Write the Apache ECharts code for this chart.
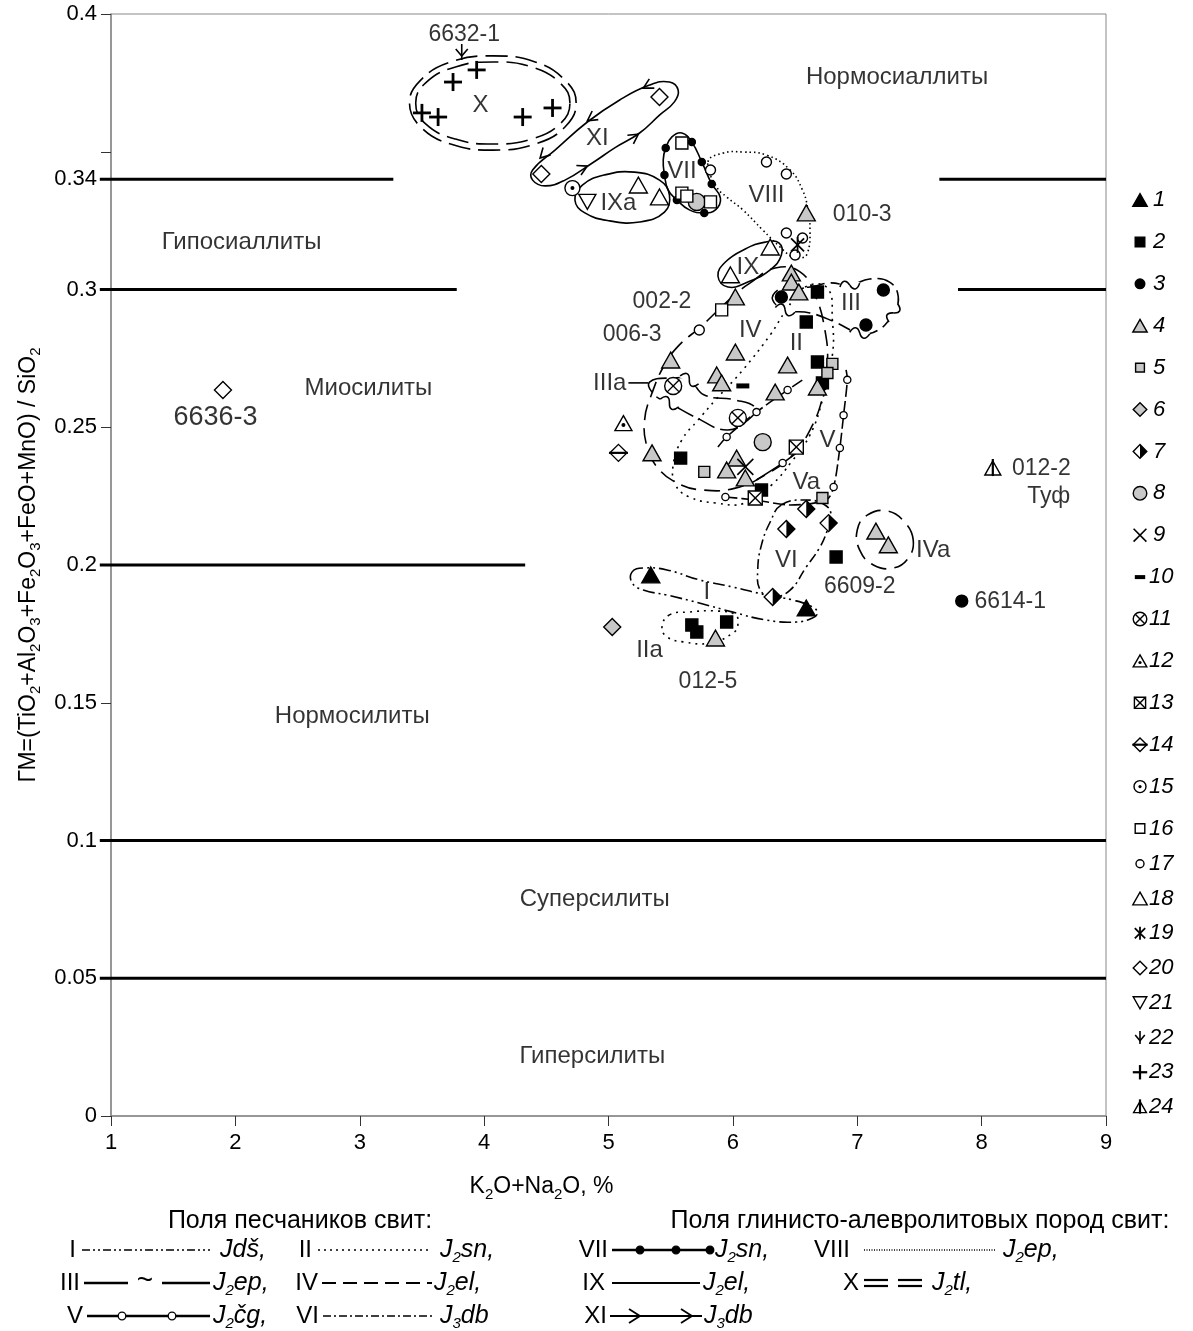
<!DOCTYPE html>
<html>
<head>
<meta charset="utf-8">
<script src="https://cdn.jsdelivr.net/npm/echarts@6/dist/echarts.min.js"></script>
<style>
  html, body { margin: 0; padding: 0; background: #fff; }
  #chart { width: 1193px; height: 1331px; }
</style>
</head>
<body>
<div id="chart"></div>
<script>
  // тики оси Y
  const yLabelValues = [0, 0.05, 0.1, 0.15, 0.2, 0.25, 0.3, 0.34, 0.4]
  const yTickValues = [0, 0.05, 0.1, 0.15, 0.2, 0.25, 0.3, 0.34, 0.35, 0.4]

  // точки по номерам условных знаков (K2O+Na2O, ГМ)
  const p1 = [[5.34, 0.1964], [6.59, 0.1844]]
  const p2 = [[6.68, 0.2991], [6.59, 0.2882], [6.68, 0.2737], [6.72, 0.2661], [5.58, 0.2388], [6.23, 0.2272], [6.83, 0.2029], [5.67, 0.1782], [5.71, 0.1757], [5.95, 0.1793]]
  const p3 = [[6.39, 0.2973], [7.21, 0.2998], [7.07, 0.2871], [7.84, 0.1869]]
  const p4 = [[6.59, 0.3278], [6.47, 0.3060], [6.47, 0.3027], [6.53, 0.2991], [6.02, 0.2973], [5.50, 0.2744], [6.02, 0.2773], [5.87, 0.2690], [5.91, 0.2661], [6.44, 0.2726], [6.34, 0.2628], [6.68, 0.2646], [5.35, 0.2407], [6.03, 0.2388], [5.95, 0.2345], [6.10, 0.2316], [7.15, 0.2123], [7.25, 0.2073], [5.86, 0.1735]]
  const p5 = [[6.80, 0.2730], [6.76, 0.2697], [5.77, 0.2338], [6.72, 0.2243]]
  const p6 = [[5.03, 0.1775]]
  const p7 = [[6.59, 0.2203], [6.43, 0.2131], [6.77, 0.2152], [6.32, 0.1884]]
  const p8 = [[5.71, 0.3318], [6.24, 0.2446]]
  const p9 = [[6.10, 0.2356]]
  const p10 = [[6.08, 0.2650]]
  const p11 = [[5.52, 0.2650], [6.04, 0.2534]]
  const p12 = [[5.12, 0.2515]]
  const p13 = [[6.51, 0.2428], [6.18, 0.2243]]
  const p14 = [[5.08, 0.2407]]
  const p15 = [[4.71, 0.3368]]
  const p16 = [[5.59, 0.3532], [5.59, 0.3350], [5.63, 0.3339], [5.82, 0.3318], [5.91, 0.2926]]
  const p17 = [[5.82, 0.3434], [6.27, 0.3463], [6.43, 0.3419], [6.43, 0.3205], [6.50, 0.3125], [6.56, 0.3187], [5.73, 0.2853]]
  const p18 = [[5.24, 0.3379], [5.41, 0.3336], [6.30, 0.3154], [5.98, 0.3053]]
  const p19 = [[6.52, 0.3162]]
  const p20 = [[5.41, 0.3699], [4.46, 0.3419], [1.90, 0.2635]]
  const p21 = [[4.83, 0.3318]]
  const p22 = [[3.82, 0.3862]]
  const p23 = [[3.94, 0.3797], [3.75, 0.3753], [3.50, 0.3641], [3.63, 0.3626], [4.31, 0.3626], [4.55, 0.3659]]
  const p24 = [[8.09, 0.2352]]
  const points = [p1, p2, p3, p4, p5, p6, p7, p8, p9, p10, p11, p12, p13, p14, p15, p16, p17, p18, p19, p20, p21, p22, p23, p24]

  // границы классов
  const borders = [
    [0.91, 0.34, 3.27, 0.34], [7.66, 0.34, 9, 0.34],
    [0.91, 0.3, 3.78, 0.3], [7.81, 0.3, 9, 0.3],
    [0.91, 0.2, 4.33, 0.2],
    [0.91, 0.1, 9, 0.1],
    [0.91, 0.05, 9, 0.05]
  ]

  // контуры полей: [x, y, метка] 1 - кружок на линии, 2 - волна
  const fieldI = [[5.19, 0.1975], [5.28, 0.1989], [5.47, 0.1982], [5.73, 0.1946], [6.00, 0.1920], [6.27, 0.1891], [6.48, 0.1873], [6.64, 0.1848], [6.68, 0.1826], [6.64, 0.1808], [6.51, 0.1793], [6.27, 0.1800], [6.00, 0.1829], [5.73, 0.1862], [5.47, 0.1891], [5.28, 0.1909], [5.19, 0.1935]]
  const fieldII = [[6.58, 0.3009], [6.76, 0.3005], [6.80, 0.2889], [6.80, 0.2762], [6.72, 0.2599], [6.62, 0.2472], [6.47, 0.2374], [6.31, 0.2290], [6.10, 0.2225], [5.86, 0.2225], [5.65, 0.2247], [5.54, 0.2290], [5.52, 0.2363], [5.59, 0.2454], [5.72, 0.2526], [5.86, 0.2599], [6.08, 0.2708], [6.30, 0.2835], [6.43, 0.2926]]
  const fieldIIa = [[5.49, 0.1819], [5.64, 0.1829], [5.87, 0.1833], [6.02, 0.1819], [6.04, 0.1782], [6.00, 0.1753], [5.82, 0.1717], [5.60, 0.1721], [5.47, 0.1739], [5.43, 0.1775]]
  const fieldIII = [[6.32, 0.2962], [6.42, 0.2926, 2], [6.62, 0.2915], [6.82, 0.2882], [7.02, 0.2842, 2], [7.17, 0.2853], [7.29, 0.2915, 2], [7.33, 0.2973], [7.26, 0.3027], [7.10, 0.3038], [6.94, 0.3016, 2], [6.78, 0.3024], [6.62, 0.3009], [6.46, 0.3009], [6.36, 0.2998]]
  const fieldIIIa = [[5.33, 0.2664], [5.52, 0.2679], [5.65, 0.2672, 2], [5.77, 0.2617], [6.02, 0.2599], [6.18, 0.2570], [6.12, 0.2526], [5.95, 0.2490], [5.71, 0.2534], [5.49, 0.2588, 2], [5.37, 0.2617]]
  const leadIIIa = [[5.16, 0.2661], [5.32, 0.2661]]
  const fieldIV = [[6.14, 0.3024], [6.34, 0.3078], [6.54, 0.3064], [6.66, 0.2980], [6.74, 0.2853], [6.76, 0.2726], [6.72, 0.2606], [6.62, 0.2490], [6.48, 0.2399], [6.26, 0.2327], [6.02, 0.2279], [5.76, 0.2272], [5.55, 0.2298], [5.39, 0.2356], [5.31, 0.2428], [5.29, 0.2526], [5.35, 0.2624], [5.45, 0.2726], [5.57, 0.2799], [5.73, 0.2860], [5.90, 0.2933], [6.03, 0.2987]]
  const fieldIVa = [[7.45, 0.2091], [7.38, 0.2156], [7.24, 0.2196], [7.08, 0.2181], [7.00, 0.2127], [7.02, 0.2054], [7.13, 0.2000], [7.29, 0.1989], [7.41, 0.2025]]
  const fieldV = [[5.94, 0.2247, 1], [6.18, 0.2236], [6.46, 0.2218], [6.75, 0.2236], [6.81, 0.2283, 1], [6.86, 0.2425, 1], [6.89, 0.2544, 1], [6.92, 0.2672, 1], [6.91, 0.2708]]
  const fieldV2 = [[5.88, 0.2428], [5.95, 0.2465, 1], [6.19, 0.2555, 1], [6.44, 0.2635, 1], [6.56, 0.2672]]
  const fieldVa = [[6.19, 0.2309], [6.40, 0.2370, 1], [6.52, 0.2410]]
  const fieldVI = [[6.39, 0.2218], [6.30, 0.2156], [6.23, 0.2073], [6.20, 0.1982], [6.22, 0.1909], [6.32, 0.1884], [6.46, 0.1909], [6.59, 0.1993], [6.70, 0.2065], [6.76, 0.2127], [6.79, 0.2181], [6.74, 0.2218], [6.58, 0.2236]]
  const fieldVII = [[5.46, 0.3514, 1], [5.51, 0.3554], [5.59, 0.3568], [5.67, 0.3535, 1], [5.75, 0.3463, 1], [5.83, 0.3383, 1], [5.90, 0.3332], [5.86, 0.3289], [5.77, 0.3278, 1], [5.65, 0.3289], [5.55, 0.3325, 1], [5.48, 0.3361], [5.45, 0.3416, 1], [5.44, 0.3470]]
  const fieldVIII = [[5.80, 0.3463], [5.92, 0.3495], [6.08, 0.3499], [6.27, 0.3488], [6.46, 0.3434], [6.56, 0.3361], [6.60, 0.3299], [6.62, 0.3216], [6.60, 0.3132], [6.55, 0.3114], [6.48, 0.3118], [6.38, 0.3154], [6.24, 0.3216], [6.08, 0.3289], [5.95, 0.3336], [5.87, 0.3372]]
  const fieldIX = [[5.88, 0.3049], [5.94, 0.3100], [6.10, 0.3147], [6.26, 0.3172], [6.37, 0.3169], [6.39, 0.3125], [6.30, 0.3071], [6.12, 0.3027], [5.96, 0.3009]]
  const fieldIXa = [[5.49, 0.3343], [5.41, 0.3397], [5.21, 0.3426], [4.97, 0.3416], [4.79, 0.3379], [4.73, 0.3325], [4.81, 0.3278], [5.01, 0.3249], [5.25, 0.3245], [5.45, 0.3281]]
  const fieldXout = [[4.74, 0.3677], [4.65, 0.3760], [4.41, 0.3826], [4.07, 0.3848], [3.73, 0.3826], [3.49, 0.3760], [3.40, 0.3677], [3.49, 0.3590], [3.73, 0.3528], [4.07, 0.3506], [4.41, 0.3528], [4.65, 0.3590]]
  const fieldXin = [[4.69, 0.3677], [4.61, 0.3750], [4.38, 0.3808], [4.07, 0.3826], [3.77, 0.3808], [3.53, 0.3750], [3.45, 0.3677], [3.53, 0.3601], [3.77, 0.3546], [4.07, 0.3528], [4.38, 0.3546], [4.61, 0.3601]]
  const fieldXI = [[4.39, 0.3434], [4.57, 0.3506], [4.83, 0.3608], [5.09, 0.3688], [5.33, 0.3742], [5.49, 0.3753], [5.56, 0.3724], [5.53, 0.3681], [5.41, 0.3633], [5.25, 0.3568], [5.05, 0.3514], [4.87, 0.3459], [4.65, 0.3397], [4.49, 0.3376], [4.39, 0.3397]]
  const xiArrows = [[5.37, 0.3753, 5.28, 0.3731], [4.93, 0.3644, 4.83, 0.3612], [4.53, 0.3514, 4.45, 0.3477], [4.73, 0.3426, 4.83, 0.3448], [5.16, 0.3539, 5.24, 0.3564]]

  // подписи
  const classNames = [['Нормосиаллиты', 7.32, 0.377], ['Гипосиаллиты', 2.05, 0.317], ['Миосилиты', 3.07, 0.264], ['Нормосилиты', 2.94, 0.145], ['Суперсилиты', 4.89, 0.0788], ['Гиперсилиты', 4.87, 0.0218]]
  const fieldNames = [['X', 3.97, 0.367], ['XI', 4.91, 0.355], ['IXa', 5.08, 0.3314], ['VII', 5.59, 0.3427], ['VIII', 6.27, 0.3343], ['IX', 6.12, 0.3082], ['IV', 6.14, 0.2853], ['II', 6.51, 0.2806], ['III', 6.95, 0.2951], ['IIIa', 5.01, 0.2661], ['V', 6.76, 0.2454], ['Va', 6.59, 0.2301], ['VI', 6.43, 0.2018], ['IVa', 7.61, 0.2054], ['I', 5.79, 0.1902], ['IIa', 5.33, 0.1691]]
  const sampleNames = [['6632-1', 3.84, 0.3924], ['010-3', 7.04, 0.327], ['002-2', 5.43, 0.2955], ['006-3', 5.19, 0.2835], ['012-2', 8.48, 0.2348], ['Туф', 8.54, 0.2247], ['6609-2', 7.02, 0.192], ['6614-1', 8.23, 0.1866], ['012-5', 5.80, 0.1575]]
  const bigSampleNames = [['6636-3', 1.84, 0.2534]]

  const FONT = '"Liberation Sans", Arial, sans-serif'
  const GRAY = '#c8c8c8'

  // стили контуров
  const fields = [
    { pts: fieldI, dash: [12, 4, 2, 4, 2, 4] },
    { pts: fieldII, dash: [2, 5] },
    { pts: fieldIIa, dash: [2, 5] },
    { pts: fieldIII, dash: [18, 6] },
    { pts: fieldIIIa, dash: [18, 6] },
    { pts: leadIIIa, open: true },
    { pts: fieldIV, dash: [16, 8] },
    { pts: fieldIVa, dash: [16, 8] },
    { pts: fieldV, open: true, dash: [12, 4] },
    { pts: fieldV2, open: true, dash: [12, 4] },
    { pts: fieldVa, open: true },
    { pts: fieldVI, dash: [10, 4, 2, 4] },
    { pts: fieldVII, dot: true },
    { pts: fieldVIII, dash: [1.5, 3] },
    { pts: fieldIX },
    { pts: fieldIXa },
    { pts: fieldXout, dash: [22, 8] },
    { pts: fieldXin, dash: [22, 8] },
    { pts: fieldXI, arrows: xiArrows }
  ]

  // значок условного обозначения t в точке (cx, cy), масштаб k
  function shapeFor(t, cx, cy, k) {
    const out = []
    const L = 1.4
    const poly = (pts, fill) => out.push({ type: 'polygon', shape: { points: pts }, style: { fill: fill, stroke: '#000', lineWidth: L } })
    const seg = (x1, y1, x2, y2, w) => out.push({ type: 'line', shape: { x1: x1, y1: y1, x2: x2, y2: y2 }, style: { stroke: '#000', lineWidth: w || L } })
    const circ = (r, fill, lw) => out.push({ type: 'circle', shape: { cx: cx, cy: cy, r: r }, style: { fill: fill, stroke: '#000', lineWidth: lw === undefined ? L : lw } })
    const box = (w, h, fill, lw) => out.push({ type: 'rect', shape: { x: cx - w / 2, y: cy - h / 2, width: w, height: h }, style: { fill: fill, stroke: '#000', lineWidth: lw === undefined ? L : lw } })
    const tri = (s, fill, down) => {
      const hw = s / 2, h = s * 0.88
      if (down) poly([[cx - hw, cy - h / 2], [cx + hw, cy - h / 2], [cx, cy + h / 2]], fill)
      else poly([[cx, cy - h / 2], [cx + hw, cy + h / 2], [cx - hw, cy + h / 2]], fill)
      return h
    }
    const dia = (s, fill) => { const r = s / 2; poly([[cx, cy - r], [cx + r, cy], [cx, cy + r], [cx - r, cy]], fill) }
    let d, h
    switch (t) {
      case 1: tri(18 * k, '#000'); break
      case 2: box(12 * k, 12 * k, '#000'); break
      case 3: circ(6 * k, '#000'); break
      case 4: tri(18 * k, GRAY); break
      case 5: box(11 * k, 11 * k, GRAY); break
      case 6: dia(17 * k, GRAY); break
      case 7:
        dia(17 * k, '#fff')
        d = 8.5 * k
        out.push({ type: 'polygon', shape: { points: [[cx, cy - d], [cx + d, cy], [cx, cy + d]] }, style: { fill: '#000' } })
        break
      case 8: circ(8.5 * k, GRAY); break
      case 9:
        d = 8 * k
        seg(cx - d, cy - d, cx + d, cy + d, 1.6); seg(cx - d, cy + d, cx + d, cy - d, 1.6)
        break
      case 10: box(13 * k, 5 * k, '#000', 0); break
      case 11:
        circ(8.5 * k, '#fff')
        d = 8.5 * k * 0.7
        seg(cx - d, cy - d, cx + d, cy + d); seg(cx - d, cy + d, cx + d, cy - d)
        break
      case 12:
        tri(17 * k, '#fff')
        out.push({ type: 'circle', shape: { cx: cx, cy: cy + 2 * k, r: 2 * k }, style: { fill: '#000' } })
        break
      case 13:
        box(14 * k, 14 * k, '#fff')
        d = 7 * k
        seg(cx - d, cy - d, cx + d, cy + d); seg(cx - d, cy + d, cx + d, cy - d)
        break
      case 14:
        dia(17 * k, '#fff')
        seg(cx - 9.5 * k, cy, cx + 9.5 * k, cy, 2.2)
        break
      case 15:
        circ(7.5 * k, '#fff')
        out.push({ type: 'circle', shape: { cx: cx, cy: cy, r: 2 * k }, style: { fill: '#000' } })
        break
      case 16: box(12 * k, 12 * k, '#fff'); break
      case 17: circ(5 * k, '#fff'); break
      case 18: tri(18 * k, '#fff'); break
      case 19:
        d = 6.5 * k
        seg(cx - d, cy - d, cx + d, cy + d, 1.8); seg(cx - d, cy + d, cx + d, cy - d, 1.8); seg(cx, cy - 8 * k, cx, cy + 8 * k, 1.8)
        break
      case 20: dia(17 * k, '#fff'); break
      case 21: tri(17 * k, '#fff', true); break
      case 22:
        seg(cx, cy - 8 * k, cx, cy + 8 * k, 1.6)
        out.push({ type: 'polyline', shape: { points: [[cx - 6 * k, cy - 3 * k], [cx, cy + 4 * k], [cx + 6 * k, cy - 3 * k]] }, style: { fill: 'none', stroke: '#000', lineWidth: 1.6 } })
        break
      case 23:
        d = 9 * k
        seg(cx - d, cy, cx + d, cy, 2.8 * k); seg(cx, cy - d, cx, cy + d, 2.8 * k)
        break
      case 24:
        h = tri(16 * k, '#fff')
        seg(cx, cy - h / 2 - 2, cx, cy + h / 2 + 1, 2.2)
        break
    }
    return { type: 'group', children: out }
  }

  function bez(c, ang, p) {
    // поворот локальных точек волны вдоль линии
    const cs = Math.cos(ang), sn = Math.sin(ang)
    const tr = (x, y) => [c[0] + x * cs - y * sn, c[1] + x * sn + y * cs]
    const a = tr(p[0], p[1]), b = tr(p[2], p[3]), e = tr(p[4], p[5]), f = tr(p[6], p[7])
    return { type: 'bezierCurve', shape: { x1: a[0], y1: a[1], cpx1: b[0], cpy1: b[1], cpx2: e[0], cpy2: e[1], x2: f[0], y2: f[1] }, style: { fill: 'none', stroke: '#000', lineWidth: 1.6 } }
  }

  function fieldItem(params, api) {
    const f = fields[api.value(2)]
    const pts = f.pts.map(p => api.coord([p[0], p[1]]))
    const kids = [{
      type: f.open ? 'polyline' : 'polygon',
      shape: { points: pts, smooth: f.open ? 0.3 : 0.45 },
      style: { fill: 'none', stroke: '#000', lineWidth: 1.6, lineDash: f.dash || null }
    }]
    f.pts.forEach((p, i) => {
      const c = pts[i]
      if (p[2] === 1) {
        kids.push({ type: 'circle', shape: { cx: c[0], cy: c[1], r: 3.6 }, style: { fill: f.dot ? '#000' : '#fff', stroke: '#000', lineWidth: 1.3 } })
      }
      if (p[2] === 2) {
        const a = pts[(i - 1 + pts.length) % pts.length], b = pts[(i + 1) % pts.length]
        const ang = Math.atan2(b[1] - a[1], b[0] - a[0])
        const cs = Math.cos(ang), sn = Math.sin(ang)
        kids.push({ type: 'line', shape: { x1: c[0] - 10 * cs, y1: c[1] - 10 * sn, x2: c[0] + 10 * cs, y2: c[1] + 10 * sn }, style: { stroke: '#fff', lineWidth: 5 } })
        kids.push(bez(c, ang, [-10, 1, -7, -6, -3, -6, 0, 0]))
        kids.push(bez(c, ang, [0, 0, 3, 6, 7, 6, 10, -1]))
      }
    })
    ;(f.arrows || []).forEach(s => {
      const p = api.coord([s[0], s[1]]), q = api.coord([s[2], s[3]])
      const ang = Math.atan2(q[1] - p[1], q[0] - p[0])
      const L = 11, w = 0.5
      kids.push({
        type: 'polyline',
        shape: { points: [[q[0] - L * Math.cos(ang - w), q[1] - L * Math.sin(ang - w)], q, [q[0] - L * Math.cos(ang + w), q[1] - L * Math.sin(ang + w)]] },
        style: { fill: 'none', stroke: '#000', lineWidth: 1.6 }
      })
    })
    return { type: 'group', children: kids }
  }

  // правая легенда: значки 1..24
  const legendGraphics = []
  for (let i = 1; i <= 24; i++) {
    const y = i <= 16 ? 200 + (i - 1) * 41.9 : 829 + (i - 16) * 34.75
    legendGraphics.push(shapeFor(i, 1140, y, 0.8))
    legendGraphics.push({
      type: 'text', x: i < 10 ? 1153 : 1149, y: y,
      style: { text: String(i), font: 'italic 22px ' + FONT, fill: '#000', align: 'left', verticalAlign: 'middle', textAlign: 'left', textVerticalAlign: 'middle' }
    })
  }

  // нижняя легенда: типы линий полей
  const jRich = {
    i: { fontFamily: FONT, fontStyle: 'italic', fontSize: 25, color: '#000', lineHeight: 30 },
    s: { fontFamily: FONT, fontStyle: 'italic', fontSize: 15, color: '#000', lineHeight: 15, verticalAlign: 'bottom' }
  }
  function txt(x, y, text, align, size) {
    return { type: 'text', x: x, y: y, style: { text: text, font: (size || 24) + 'px ' + FONT, fill: '#000', align: align || 'left', verticalAlign: 'middle', textAlign: align || 'left', textVerticalAlign: 'middle' } }
  }
  function jtxt(x, y, text) {
    return { type: 'text', x: x, y: y, style: { text: text, rich: jRich, fill: '#000', align: 'left', verticalAlign: 'middle', textAlign: 'left', textVerticalAlign: 'middle' } }
  }
  function hline(x1, x2, y, dash, w) {
    return { type: 'line', shape: { x1: x1, y1: y, x2: x2, y2: y }, style: { stroke: '#000', lineWidth: w || 1.6, lineDash: dash || null } }
  }
  function dotAt(x, y, fill) {
    return { type: 'circle', shape: { cx: x, cy: y, r: 3.8 }, style: { fill: fill, stroke: '#000', lineWidth: 1.3 } }
  }
  function chevron(x, y) {
    return { type: 'polyline', shape: { points: [[x - 11, y - 7], [x, y], [x - 11, y + 7]] }, style: { fill: 'none', stroke: '#000', lineWidth: 1.8 } }
  }
  const r1 = 1250, r2 = 1283, r3 = 1316
  const bottomLegend = [
    txt(300, 1221, 'Поля песчаников свит:', 'center', 25),
    txt(920, 1221, 'Поля глинисто-алевролитовых пород свит:', 'center', 25),
    // ряд 1
    txt(76, r1, 'I', 'right'), hline(82, 210, r1, [8, 3, 2, 3, 2, 3]), jtxt(220, r1, '{i|Jdš,}'),
    txt(312, r1, 'II', 'right'), hline(318, 430, r1, [2, 4]), jtxt(440, r1, '{i|J}{s|2}{i|sn,}'),
    txt(608, r1, 'VII', 'right'), hline(612, 712, r1, null, 2.5), dotAt(640, r1, '#000'), dotAt(676, r1, '#000'), dotAt(710, r1, '#000'), jtxt(715, r1, '{i|J}{s|2}{i|sn,}'),
    txt(850, r1, 'VIII', 'right'), hline(864, 996, r1, [1, 1.5]), jtxt(1003, r1, '{i|J}{s|2}{i|ep,}'),
    // ряд 2
    txt(80, r2, 'III', 'right'), hline(84, 128, r2, null, 2.5), txt(145, r2 - 2, '~', 'center', 28), hline(162, 210, r2, null, 2.5), jtxt(213, r2, '{i|J}{s|2}{i|ep,}'),
    txt(318, r2, 'IV', 'right'), hline(322, 432, r2, [14, 7], 2), jtxt(434, r2, '{i|J}{s|2}{i|el,}'),
    txt(605, r2, 'IX', 'right'), hline(612, 700, r2, null, 2), jtxt(703, r2, '{i|J}{s|2}{i|el,}'),
    txt(859, r2, 'X', 'right'),
    hline(864, 888, r2 - 3, null, 2.2), hline(864, 888, r2 + 3, null, 2.2), hline(898, 922, r2 - 3, null, 2.2), hline(898, 922, r2 + 3, null, 2.2),
    jtxt(932, r2, '{i|J}{s|2}{i|tl,}'),
    // ряд 3
    txt(83, r3, 'V', 'right'), hline(87, 210, r3, null, 2.5), dotAt(122, r3, '#fff'), dotAt(172, r3, '#fff'), jtxt(213, r3, '{i|J}{s|2}{i|čg,}'),
    txt(319, r3, 'VI', 'right'), hline(323, 432, r3, [8, 3, 2, 3]), jtxt(440, r3, '{i|J}{s|3}{i|db}'),
    txt(607, r3, 'XI', 'right'), hline(610, 702, r3, null, 2), chevron(640, r3), chevron(692, r3), jtxt(704, r3, '{i|J}{s|3}{i|db}')
  ]

  const labelSeries = (list, size) => ({
    type: 'scatter', silent: true, symbolSize: 1, itemStyle: { color: 'rgba(0,0,0,0)' },
    data: list.map(c => ({ value: [c[1], c[2]], name: c[0] })),
    label: { show: true, position: 'inside', formatter: '{b}', fontSize: size, fontFamily: FONT, color: '#000', textBorderWidth: 0 },
    z: 6
  })

  const axisRich = {
    t: { fontFamily: FONT, fontSize: 23, color: '#000', lineHeight: 30 },
    s: { fontFamily: FONT, fontSize: 15, color: '#000', lineHeight: 15, verticalAlign: 'bottom' }
  }

  const chart = echarts.init(document.getElementById('chart'))
  const option = {
    animation: false,
    backgroundColor: '#fff',
    textStyle: { fontFamily: FONT },
    grid: { left: 111, right: 87, top: 14, bottom: 215, show: true, borderColor: '#888', borderWidth: 1 },
    xAxis: {
      type: 'value', min: 1, max: 9, interval: 1,
      splitLine: { show: false },
      axisLine: { show: true, onZero: false, lineStyle: { color: '#888', width: 1.5 } },
      axisTick: { show: true, length: 10, lineStyle: { color: '#333' } },
      axisLabel: { color: '#000', fontSize: 22, margin: 16, fontFamily: FONT },
      name: '{t|K}{s|2}{t|O+Na}{s|2}{t|O, %}',
      nameLocation: 'middle', nameGap: 56,
      nameTextStyle: { rich: axisRich, padding: [0, 134, 0, 0] }
    },
    yAxis: {
      type: 'value', min: 0, max: 0.4,
      splitLine: { show: false },
      axisLine: { show: true, lineStyle: { color: '#888', width: 1.5 } },
      axisTick: { show: true, length: 10, customValues: yTickValues, lineStyle: { color: '#333' } },
      axisLabel: { color: '#000', fontSize: 22, margin: 14, fontFamily: FONT, customValues: yLabelValues },
      name: '{t|ГМ=(TiO}{s|2}{t|+Al}{s|2}{t|O}{s|3}{t|+Fe}{s|2}{t|O}{s|3}{t|+FeO+MnO) / SiO}{s|2}',
      nameLocation: 'middle', nameGap: 54,
      nameTextStyle: { rich: axisRich }
    },
    series: [
      {
        type: 'custom', silent: true, z: 2,
        data: borders,
        encode: { x: [0, 2], y: [1, 3] },
        renderItem: function (params, api) {
          const a = api.coord([api.value(0), api.value(1)]), b = api.coord([api.value(2), api.value(3)])
          return { type: 'line', shape: { x1: a[0], y1: a[1], x2: b[0], y2: b[1] }, style: { stroke: '#000', lineWidth: 3 } }
        }
      },
      {
        type: 'custom', silent: true, z: 3,
        data: fields.map((f, i) => [f.pts[0][0], f.pts[0][1], i]),
        encode: { x: 0, y: 1 },
        renderItem: fieldItem
      },
      labelSeries(classNames, 24),
      labelSeries(fieldNames, 24),
      labelSeries(sampleNames, 23),
      labelSeries(bigSampleNames, 27)
    ].concat(points.map((data, i) => ({
      type: 'custom', silent: true, z: 5,
      data: data,
      encode: { x: 0, y: 1 },
      renderItem: function (params, api) {
        const c = api.coord([api.value(0), api.value(1)])
        return shapeFor(i + 1, c[0], c[1], 1)
      }
    }))),
    graphic: legendGraphics.concat(bottomLegend)
  }
  chart.setOption(option)
</script>
</body>
</html>
